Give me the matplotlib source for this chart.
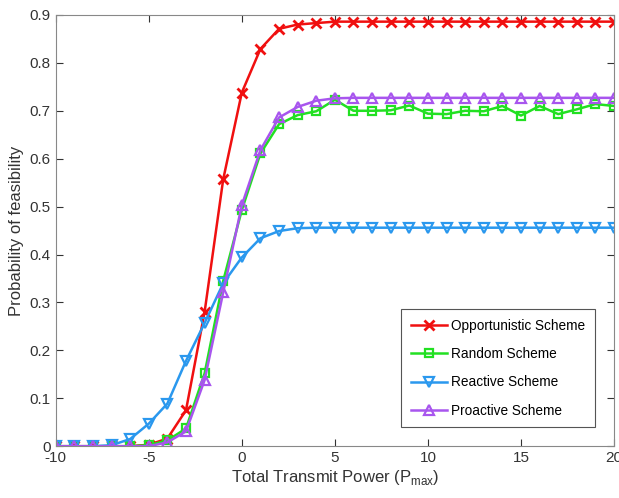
import matplotlib
matplotlib.use('Agg')
import matplotlib.pyplot as plt
import numpy as np

# total transmit power (Pmax), -10 .. 20
power = list(range(-10, 21))

opportunistic = [0, 0, 0, 0, 0, 0.003, 0.016, 0.075, 0.280, 0.557, 0.738, 0.829, 0.871,
                 0.880, 0.883, 0.886, 0.886, 0.886, 0.886, 0.886, 0.886, 0.886, 0.886,
                 0.886, 0.886, 0.886, 0.886, 0.886, 0.886, 0.886, 0.886]
random_s = [0, 0, 0, 0, 0, 0.002, 0.012, 0.037, 0.152, 0.345, 0.493, 0.611, 0.672,
            0.691, 0.699, 0.723, 0.700, 0.700, 0.701, 0.711, 0.694, 0.693, 0.700,
            0.699, 0.710, 0.690, 0.710, 0.693, 0.703, 0.714, 0.710]
reactive = [0, 0, 0, 0.002, 0.015, 0.047, 0.089, 0.178, 0.257, 0.340, 0.394, 0.434, 0.449,
            0.455, 0.456, 0.456, 0.456, 0.456, 0.456, 0.456, 0.456, 0.456, 0.456,
            0.456, 0.456, 0.456, 0.456, 0.456, 0.456, 0.456, 0.456]
proactive = [0, 0, 0, 0, 0, 0, 0.008, 0.031, 0.138, 0.321, 0.503, 0.618, 0.686,
             0.708, 0.721, 0.726, 0.727, 0.727, 0.727, 0.727, 0.727, 0.727, 0.727,
             0.727, 0.727, 0.727, 0.727, 0.727, 0.727, 0.727, 0.727]

plt.rcParams['font.family'] = ['Liberation Sans', 'DejaVu Sans']
plt.rcParams['axes.unicode_minus'] = False
plt.rcParams['mathtext.fontset'] = 'custom'
plt.rcParams['mathtext.rm'] = 'Liberation Sans'

fig = plt.figure(figsize=(6.19, 4.98), dpi=100)
ax = fig.add_axes([0.090, 0.104, 0.902, 0.866])

lw = 1.8
ax.plot(power, opportunistic, '-x', color='#f01010', lw=lw, ms=7, mew=2, label='Opportunistic Scheme')
ax.plot(power, random_s, '-s', color='#22e022', lw=lw, ms=6, mew=1.6, mfc='none', label='Random Scheme')
ax.plot(power, reactive, '-v', color='#2a98ee', lw=lw, ms=7, mew=1.6, mfc='none', label='Reactive Scheme')
ax.plot(power, proactive, '-^', color='#a855ee', lw=lw, ms=7, mew=1.6, mfc='none', label='Proactive Scheme')

ax.set_xlim(-10, 20)
ax.set_ylim(0, 0.9)
ax.set_xticks([-10, -5, 0, 5, 10, 15, 20])
ax.set_yticks(np.arange(0, 0.91, 0.1))
ax.set_yticklabels(['0', '0.1', '0.2', '0.3', '0.4', '0.5', '0.6', '0.7', '0.8', '0.9'])
ax.tick_params(direction='in', top=True, right=True, labelsize=11, colors='#333333', length=5)
for s in ax.spines.values():
    s.set_color('#888888')

ax.set_xlabel('Total Transmit Power (P$_{\\mathrm{max}}$)', fontsize=12, color='#333333', labelpad=2)
ax.set_ylabel('Probability of feasibility', fontsize=12, color='#333333', labelpad=4)

leg = ax.legend(loc='lower right', bbox_to_anchor=(0.966, 0.044), fontsize=9.8, fancybox=False,
                edgecolor='#555555', framealpha=1, handlelength=2.7, handletextpad=0.3,
                borderpad=0.7, labelspacing=1.05, borderaxespad=0)
leg.get_frame().set_linewidth(0.8)

fig.savefig('out.png', dpi=100)
